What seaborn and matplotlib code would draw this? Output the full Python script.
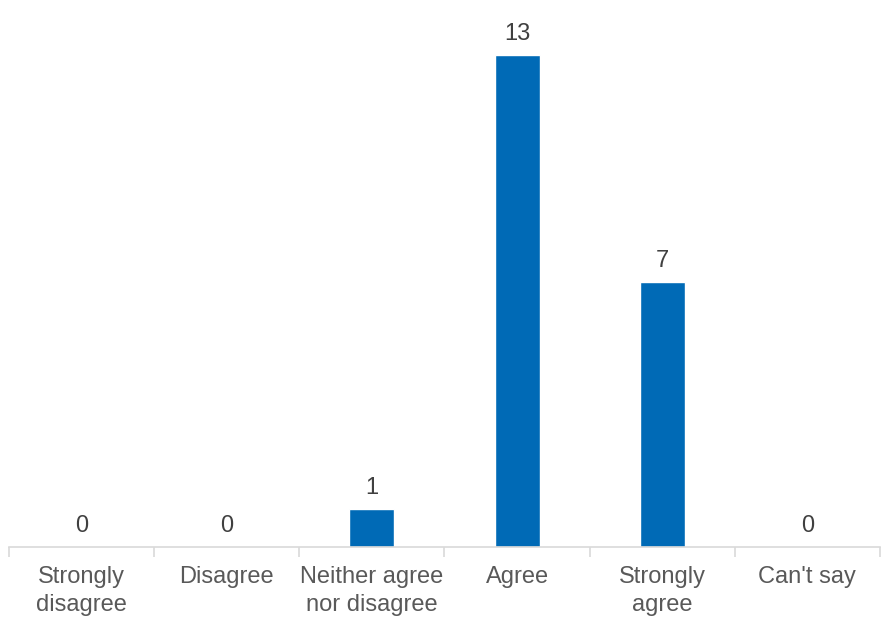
import matplotlib
matplotlib.use("Agg")
import matplotlib.pyplot as plt
import seaborn as sns
import pandas as pd
import numpy as np

categories = ["Strongly\ndisagree", "Disagree", "Neither agree\nnor disagree", "Agree", "Strongly\nagree", "Can't say"]
values = [0, 0, 1, 13, 7, 0]

sns.set_theme(style="white")
plt.rcParams['font.family'] = ['Liberation Sans', 'DejaVu Sans']

df = pd.DataFrame({"cat": categories, "val": values})

fig = plt.figure(figsize=(8.9, 6.26), dpi=100)
ax = fig.add_axes([9/890, (626-547)/626, (880-9)/890, (547-10)/626])
sns.barplot(data=df, x="cat", y="val", color="#006AB6", saturation=1, width=0.31, ax=ax)

for c in ax.containers:
    ax.bar_label(c, labels=[str(v) for v in values], padding=7, fontsize=17, color="#404040")

ax.set_xlim(-0.5, len(categories) - 0.5)
ax.set_ylim(0, 14.19)
ax.set_xlabel("")
ax.set_ylabel("")
ax.set_yticks([])
for s in ["left", "right", "top"]:
    ax.spines[s].set_visible(False)
ax.spines["bottom"].set_color("#d9d9d9")
ax.spines["bottom"].set_linewidth(1.2)

ax.set_xticks(np.arange(len(categories)))
ax.set_xticklabels(categories, fontsize=17, color="#595959", linespacing=1.32)
ax.tick_params(axis="x", which="major", bottom=True, length=0, pad=14)
ax.set_xticks(np.arange(len(categories) + 1) - 0.5, minor=True)
ax.tick_params(axis="x", which="minor", bottom=True, length=7, color="#d9d9d9", width=1.2, direction="out")

fig.savefig("out.png", dpi=100)
